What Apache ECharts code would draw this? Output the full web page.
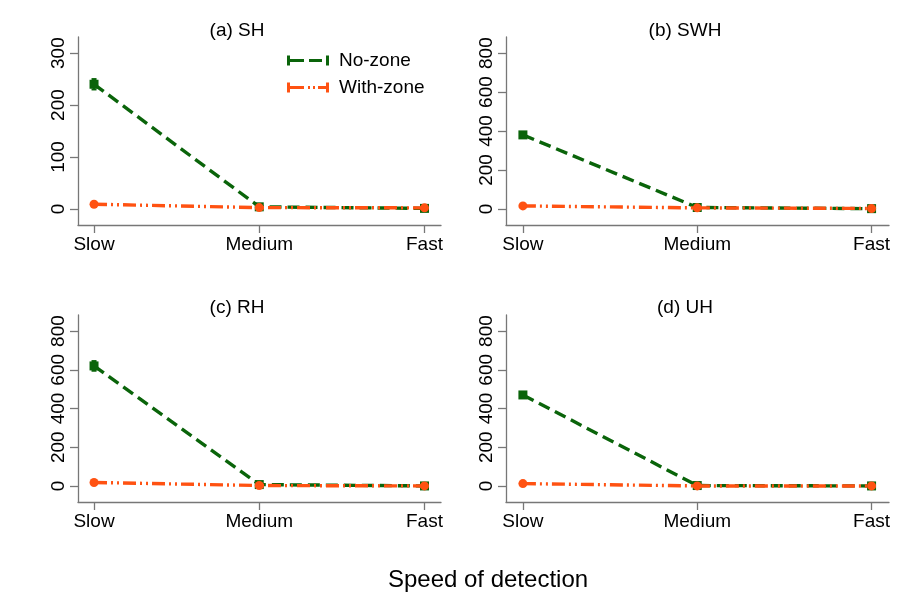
<!DOCTYPE html>
<html>
<head>
<meta charset="utf-8">
<script src="https://cdn.jsdelivr.net/npm/echarts@6/dist/echarts.min.js"></script>
<style>html,body{margin:0;padding:0;background:#fff;}#chart{width:898px;height:593px;}</style>
</head>
<body>
<div id="chart"></div>
<script>
// ---- data ----
var categories = ['Slow', 'Medium', 'Fast'];
var panelTitles = ['(a) SH', '(b) SWH', '(c) RH', '(d) UH'];
var seriesNames = ['No-zone', 'With-zone'];
var xAxisTitle = 'Speed of detection';

var noZoneSH  = [240, 4, 1];
var noZoneSWH = [380, 7, 1];
var noZoneRH  = [620, 7, 0];
var noZoneUH  = [470, 2, 0];

var withZoneSH  = [9, 2.5, 2];
var withZoneSWH = [15, 5, 2];
var withZoneRH  = [18, 2, 0];
var withZoneUH  = [12, 0, 0];

// half-width of the error bars (95% CI)
var noZoneErrSH  = [10, 1, 0.5];
var noZoneErrSWH = [15, 2, 1];
var noZoneErrRH  = [25, 2, 1];
var noZoneErrUH  = [15, 1, 1];

var withZoneErrSH  = [1.5, 0.5, 0.5];
var withZoneErrSWH = [3, 1, 1];
var withZoneErrRH  = [4, 1, 1];
var withZoneErrUH  = [3, 1, 1];

var yTicksSH = [0, 100, 200, 300];
var yTicksOther = [0, 200, 400, 600, 800];
var yRangeSH = [-31, 331];
var yRangeOther = [-83, 883];

// ---- build ----
var GREEN = '#0a640a';
var ORANGE = '#ff5212';
var AXIS = '#777777';
var FONT = 'Liberation Sans, Arial, Helvetica, sans-serif';

var panels = [
  {noZ: noZoneSH,  wZ: withZoneSH,  nErr: noZoneErrSH,  wErr: withZoneErrSH,  ticks: yTicksSH,    range: yRangeSH},
  {noZ: noZoneSWH, wZ: withZoneSWH, nErr: noZoneErrSWH, wErr: withZoneErrSWH, ticks: yTicksOther, range: yRangeOther},
  {noZ: noZoneRH,  wZ: withZoneRH,  nErr: noZoneErrRH,  wErr: withZoneErrRH,  ticks: yTicksOther, range: yRangeOther},
  {noZ: noZoneUH,  wZ: withZoneUH,  nErr: noZoneErrUH,  wErr: withZoneErrUH,  ticks: yTicksOther, range: yRangeOther}
];

var gridBoxes = [
  {left: 78,  top: 37,  width: 363, height: 188},
  {left: 506, top: 37,  width: 383, height: 188},
  {left: 78,  top: 315, width: 363, height: 187},
  {left: 506, top: 315, width: 383, height: 187}
];
var titlePos = [
  {left: 232, top: 16}, {left: 680, top: 16},
  {left: 232, top: 293}, {left: 680, top: 293}
];
var xRange = [-0.097, 2.1];

var grids = [], xAxes = [], yAxes = [], series = [], titles = [];

function errRender(color) {
  return function (params, api) {
    var x = api.value(0), lo = api.value(1), hi = api.value(2);
    var p1 = api.coord([x, lo]), p2 = api.coord([x, hi]);
    var cw = 2.5;
    var st = {stroke: color, lineWidth: 2};
    return {
      type: 'group',
      children: [
        {type: 'line', shape: {x1: p1[0], y1: p1[1], x2: p2[0], y2: p2[1]}, style: st},
        {type: 'line', shape: {x1: p1[0] - cw, y1: p1[1], x2: p1[0] + cw, y2: p1[1]}, style: st},
        {type: 'line', shape: {x1: p2[0] - cw, y1: p2[1], x2: p2[0] + cw, y2: p2[1]}, style: st}
      ]
    };
  };
}

panels.forEach(function (p, i) {
  grids.push(gridBoxes[i]);
  titles.push({
    text: panelTitles[i], left: titlePos[i].left, top: titlePos[i].top, textAlign: 'center',
    textStyle: {fontFamily: FONT, fontSize: 19, fontWeight: 'normal', color: '#000'}
  });
  xAxes.push({
    type: 'value', gridIndex: i, min: xRange[0], max: xRange[1],
    axisLine: {show: true, onZero: false, lineStyle: {color: AXIS, width: 1.3}},
    axisTick: {show: true, length: 8, lineStyle: {color: AXIS, width: 1.3}, customValues: [0, 1, 2]},
    axisLabel: {
      show: true, margin: 10, fontFamily: FONT, fontSize: 19, color: '#000',
      customValues: [0, 1, 2],
      formatter: function (v) { return categories[Math.round(v)]; }
    },
    splitLine: {show: false}
  });
  yAxes.push({
    type: 'value', gridIndex: i, min: p.range[0], max: p.range[1],
    axisLine: {show: true, onZero: false, lineStyle: {color: AXIS, width: 1.3}},
    axisTick: {show: true, length: 8, lineStyle: {color: AXIS, width: 1.3}, customValues: p.ticks},
    axisLabel: {
      show: true, rotate: 90, margin: 10, fontFamily: FONT, fontSize: 19, color: '#000',
      customValues: p.ticks
    },
    splitLine: {show: false}
  });

  var nData = p.noZ.map(function (v, k) { return [k, v]; });
  var wData = p.wZ.map(function (v, k) { return [k, v]; });
  var nErrData = p.noZ.map(function (v, k) { return [k, v - p.nErr[k], v + p.nErr[k]]; });
  var wErrData = p.wZ.map(function (v, k) { return [k, v - p.wErr[k], v + p.wErr[k]]; });

  series.push({
    type: 'custom', name: seriesNames[0] + ' CI', xAxisIndex: i, yAxisIndex: i,
    renderItem: errRender(GREEN), data: nErrData, z: 2, silent: true
  });
  series.push({
    type: 'line', name: seriesNames[0], xAxisIndex: i, yAxisIndex: i, data: nData,
    symbol: 'rect', symbolSize: 9, color: GREEN,
    itemStyle: {color: GREEN},
    lineStyle: {color: GREEN, width: 3.4, type: [12, 6]},
    z: 3, animation: false
  });
  series.push({
    type: 'custom', name: seriesNames[1] + ' CI', xAxisIndex: i, yAxisIndex: i,
    renderItem: errRender(ORANGE), data: wErrData, z: 4, silent: true
  });
  series.push({
    type: 'line', name: seriesNames[1], xAxisIndex: i, yAxisIndex: i, data: wData,
    symbol: 'circle', symbolSize: 9, color: ORANGE,
    itemStyle: {color: ORANGE},
    lineStyle: {color: ORANGE, width: 3.4, type: [13, 4, 2, 4, 2, 4]},
    z: 5, animation: false
  });
});

var option = {
  backgroundColor: '#fff',
  animation: false,
  title: titles.concat([{
    text: xAxisTitle, left: 483, top: 563, textAlign: 'center',
    textStyle: {fontFamily: FONT, fontSize: 24, fontWeight: 'normal', color: '#000'}
  }]),
  legend: {
    orient: 'vertical', left: 287, top: 51, padding: 0, itemGap: 8, itemWidth: 42, itemHeight: 10, itemTextGap: 10,
    textStyle: {fontFamily: FONT, fontSize: 19, color: '#000', padding: [0, 0, 0, 5]},
    data: [
      {name: seriesNames[0], icon: 'path://M0,0h3v10h-3z M3,3.5h14v3h-14z M22,3.5h13v3h-13z M39,0h3v10h-3z'},
      {name: seriesNames[1], icon: 'path://M0,0h3v10h-3z M3,3.5h14v3h-14z M21,3.5h2v3h-2z M26,3.5h2v3h-2z M31,3.5h8v3h-8z M39,0h3v10h-3z'}
    ]
  },
  grid: grids,
  xAxis: xAxes,
  yAxis: yAxes,
  series: series
};

var chart = echarts.init(document.getElementById('chart'), null, {renderer: 'canvas'});
chart.setOption(option);
</script>
</body>
</html>
